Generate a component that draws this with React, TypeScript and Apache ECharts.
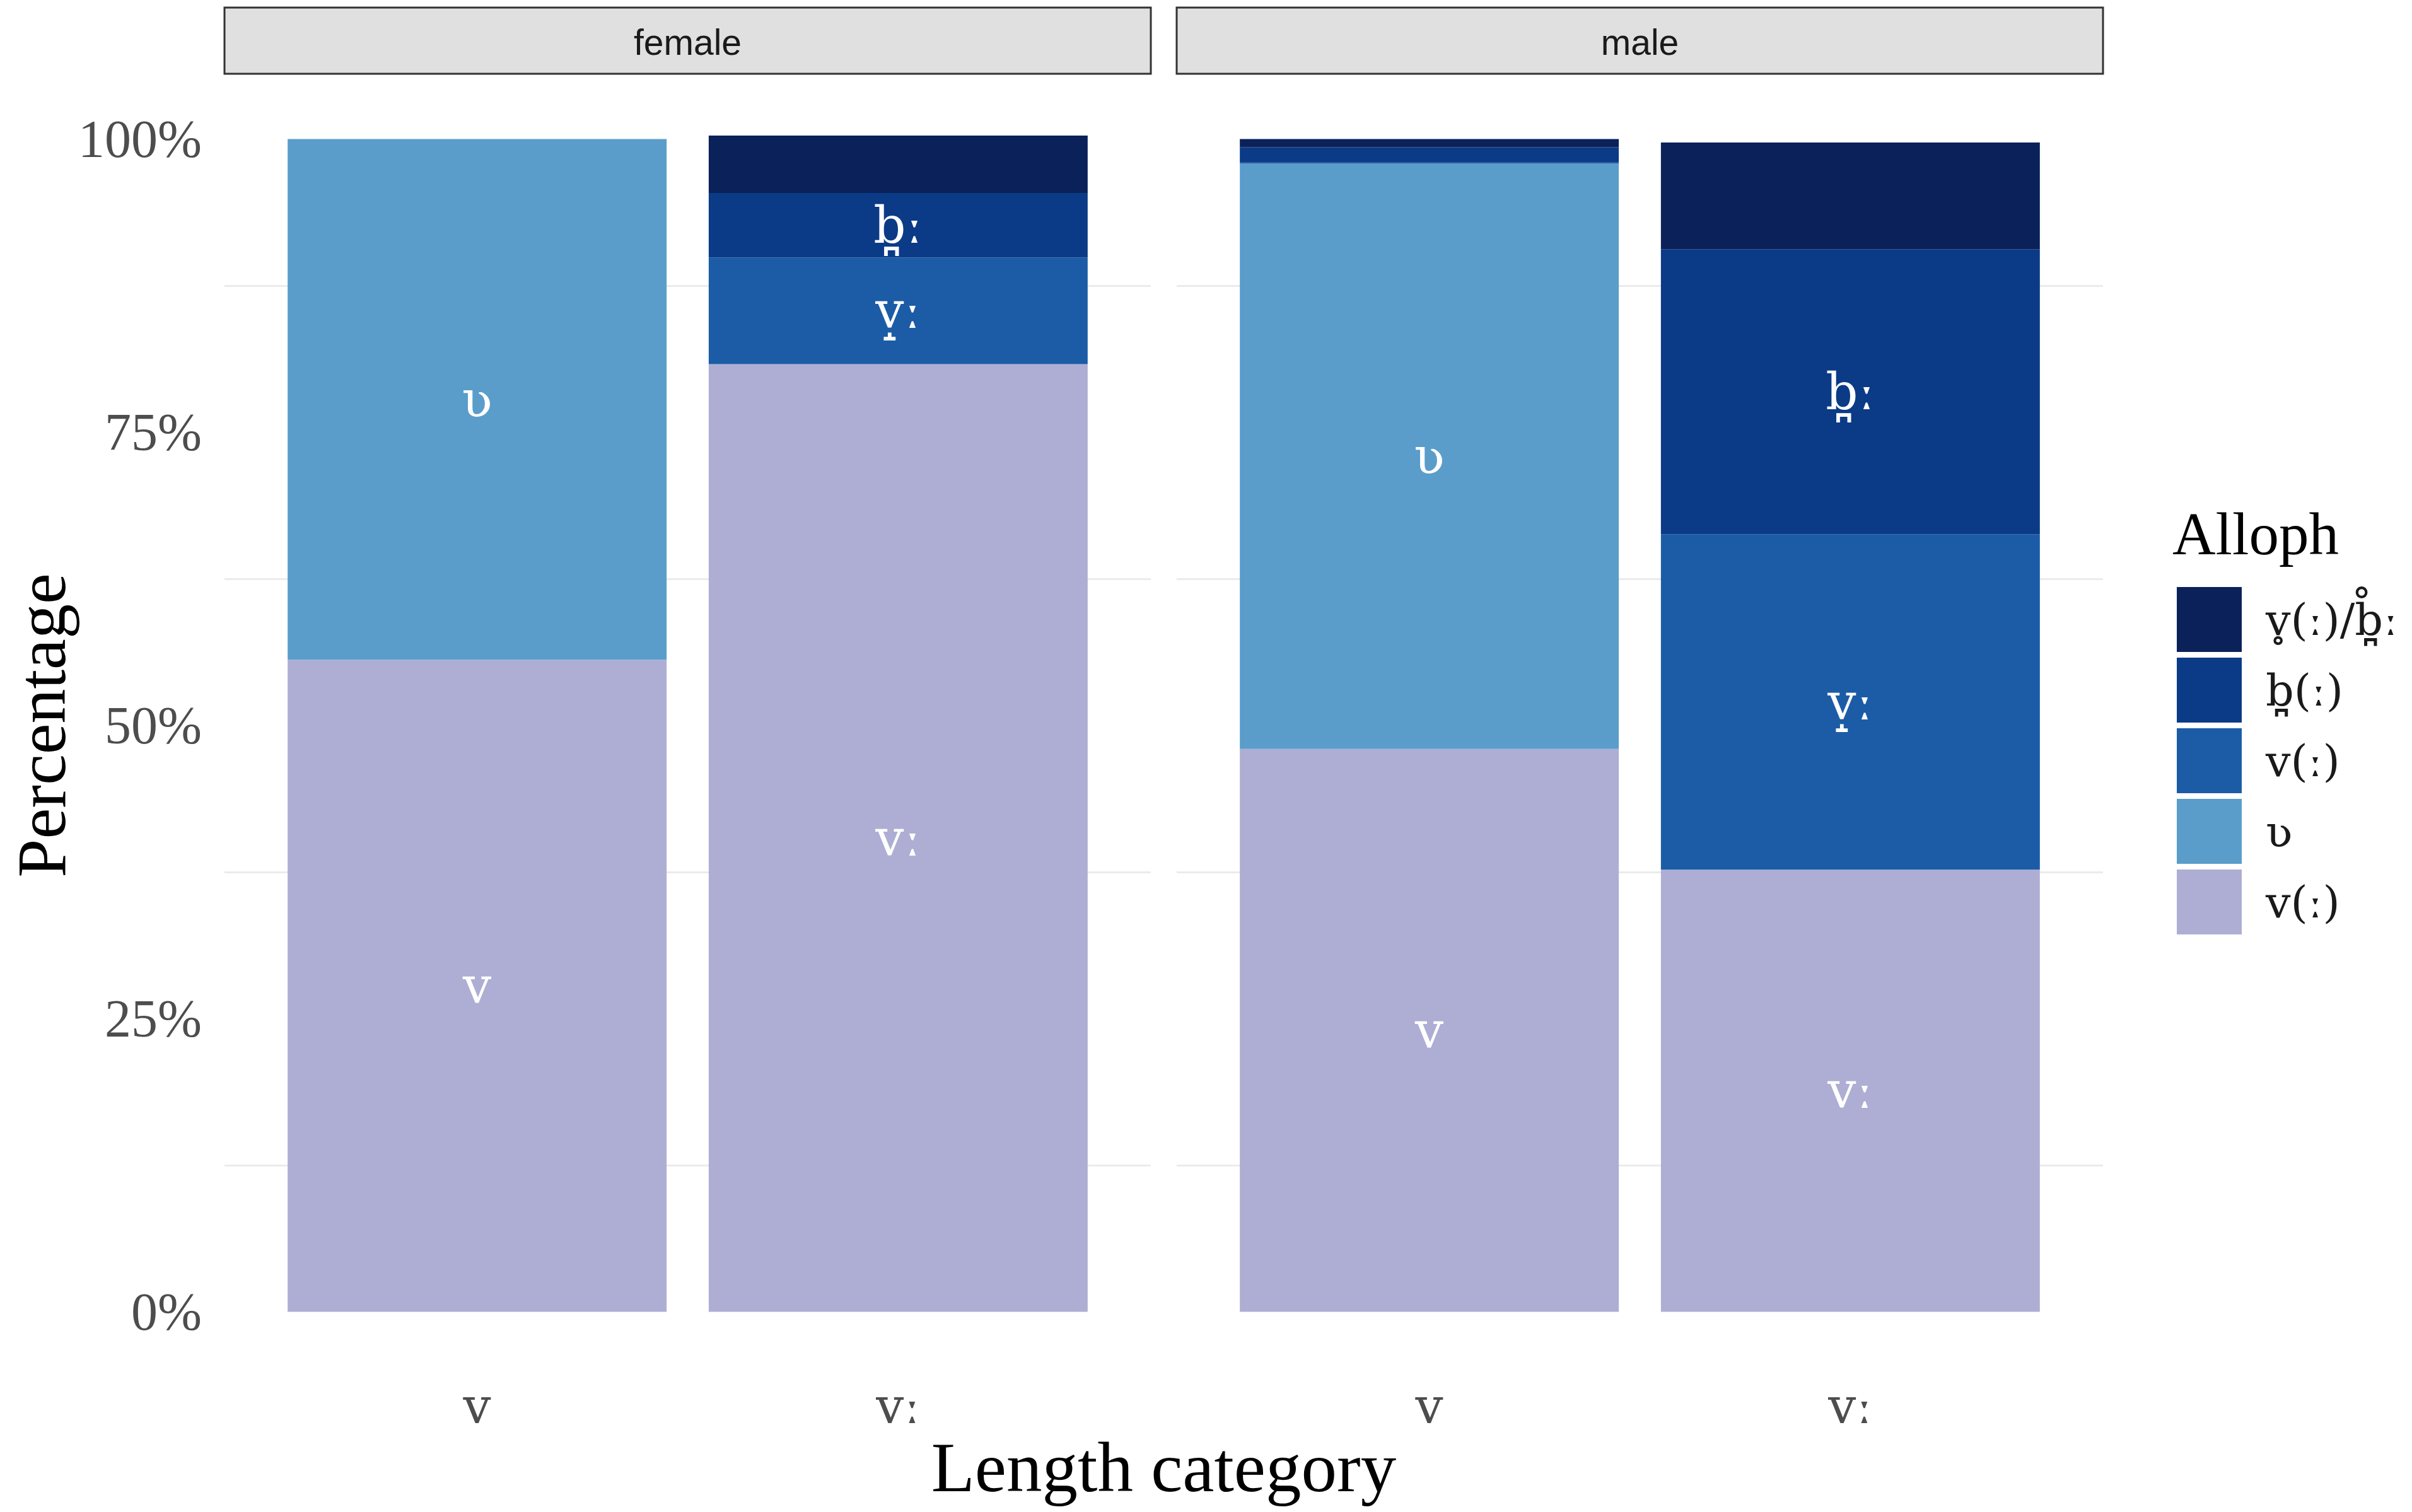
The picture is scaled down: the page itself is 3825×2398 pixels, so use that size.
import React, { useEffect, useRef } from 'react';
import * as echarts from 'echarts';

// ---------- data ----------
const panels = ['female', 'male'];
const categories = ['v', 'vː'];
const yTickStep = 25;
// stack order, bottom -> top
const seriesNames = ['v(ː)', 'ʋ', 'v̝(ː)', 'b̪(ː)', 'v̥(ː)/b̪̊ː'];
const legendLabels = ['v(ː)', 'ʋ', 'v(ː)', 'b̪(ː)', 'v̥(ː)/b̪̊ː'];
const colors = ['#aeaed4', '#5a9dca', '#1c5ca6', '#0b3b87', '#0b2159'];

// percentages per category [v, vː]
const femaleLav = [55.6, 80.8];
const femaleUpsilon = [44.4, 0];
const femaleMid = [0, 9.1];
const femaleDark = [0, 5.5];
const femaleDarkest = [0, 4.9];

const maleLav = [48.0, 37.7];
const maleUpsilon = [49.9, 0];
const maleMid = [0.1, 28.6];
const maleDark = [1.3, 24.3];
const maleDarkest = [0.7, 9.1];

// text drawn inside each segment [v, vː]
const segLabelsLav = ['v', 'vː'];
const segLabelsUpsilon = ['ʋ', ''];
const segLabelsMid = ['', 'v̝ː'];
const segLabelsDark = ['', 'b̪ː'];
const segLabelsDarkest = ['', ''];

const panelValues = [
  [femaleLav, femaleUpsilon, femaleMid, femaleDark, femaleDarkest],
  [maleLav, maleUpsilon, maleMid, maleDark, maleDarkest],
];
const segLabels = [segLabelsLav, segLabelsUpsilon, segLabelsMid, segLabelsDark, segLabelsDarkest];

// ---------- layout ----------
const W = 3825;
const H = 2398;
const SERIF = '"Liberation Serif", "DejaVu Serif", serif';
const IPA = '"DejaVu Serif", serif';
const SANS = '"Liberation Sans", Arial, sans-serif';
const panelLeft = [356, 1866];
const panelWidth = 1469;
const plotTop = 220.5;
const plotBottom = 2080.5;
const xExpand = 0.6;

export default function App() {
  const ref = useRef<HTMLDivElement>(null);

  useEffect(() => {
    document.body.style.margin = '0';
    document.body.style.overflow = 'hidden';
    if (!ref.current) return;
    const chart = echarts.init(ref.current, null, { renderer: 'svg', width: W, height: H });

    const plotHeight = plotBottom - plotTop;
    const unitPx = panelWidth / (categories.length - 1 + 2 * xExpand);
    const barGridOffset = (xExpand - 0.5) * unitPx;
    const barGridWidth = categories.length * unitPx;

    const grids: any[] = [];
    const xAxes: any[] = [];
    const yAxes: any[] = [];
    // background grids (gridlines, y labels)
    panels.forEach((_, p) => {
      grids.push({ left: panelLeft[p], top: plotTop, width: panelWidth, height: plotHeight });
      xAxes.push({ gridIndex: p, type: 'value', min: 0, max: 1, show: false });
      yAxes.push({
        gridIndex: p,
        type: 'value',
        min: 0,
        max: 100,
        interval: yTickStep,
        axisLine: { show: false },
        axisTick: { show: false },
        axisLabel: {
          show: p === 0,
          formatter: '{value}%',
          margin: 36,
          fontFamily: SERIF,
          fontSize: 84,
          color: '#4d4d4d',
        },
        splitLine: { show: false },
        minorTick: { show: false, splitNumber: 2 },
        minorSplitLine: { show: true, lineStyle: { color: '#ebebeb', width: 3 } },
      });
    });
    // bar grids
    panels.forEach((_, p) => {
      const gi = panels.length + p;
      grids.push({ left: panelLeft[p] + barGridOffset, top: plotTop, width: barGridWidth, height: plotHeight });
      xAxes.push({
        gridIndex: gi,
        type: 'category',
        data: categories,
        axisLine: { show: false },
        axisTick: { show: false },
        splitLine: { show: false },
        axisLabel: { margin: 110, fontFamily: IPA, fontSize: 78, color: '#4d4d4d' },
      });
      yAxes.push({ gridIndex: gi, type: 'value', min: 0, max: 100, show: false });
    });

    const series: any[] = [];
    panels.forEach((_, p) => {
      const gi = panels.length + p;
      seriesNames.forEach((name, s) => {
        series.push({
          type: 'bar',
          name,
          xAxisIndex: gi,
          yAxisIndex: gi,
          stack: 'panel' + p,
          barWidth: '90%',
          clip: false,
          silent: true,
          itemStyle: { color: colors[s] },
          label: {
            show: true,
            position: 'inside',
            color: '#ffffff',
            fontFamily: IPA,
            fontSize: 80,
            formatter: (params: any) => segLabels[s][params.dataIndex] || '',
          },
          emphasis: { disabled: true },
          data: panelValues[p][s],
        });
      });
    });

    const graphic: any[] = [];
    panels.forEach((name, p) => {
      graphic.push({
        type: 'rect',
        shape: { x: panelLeft[p], y: 12, width: panelWidth, height: 105 },
        style: { fill: '#e0e0e0', stroke: '#333333', lineWidth: 3 },
        silent: true,
      });
      graphic.push({
        type: 'text',
        x: panelLeft[p] + panelWidth / 2,
        y: 67,
        style: {
          text: name,
          fill: '#1a1a1a',
          font: `57px ${SANS}`,
          align: 'center',
          verticalAlign: 'middle',
        },
        silent: true,
      });
    });
    graphic.push({
      type: 'text',
      x: (panelLeft[0] + panelLeft[1] + panelWidth) / 2,
      y: 2326,
      style: { text: 'Length category', fill: '#000000', font: `113px ${SERIF}`, align: 'center', verticalAlign: 'middle' },
      silent: true,
    });
    graphic.push({
      type: 'text',
      x: 66,
      y: (plotTop + plotBottom) / 2,
      rotation: Math.PI / 2,
      style: { text: 'Percentage', fill: '#000000', font: `110px ${SERIF}`, align: 'center', verticalAlign: 'middle' },
      silent: true,
    });
    graphic.push({
      type: 'text',
      x: 3445,
      y: 847,
      style: { text: 'Alloph', fill: '#000000', font: `95px ${SERIF}`, align: 'left', verticalAlign: 'middle' },
      silent: true,
    });

    chart.setOption({
      animation: false,
      backgroundColor: '#ffffff',
      grid: grids,
      xAxis: xAxes,
      yAxis: yAxes,
      series,
      legend: {
        orient: 'vertical',
        left: 3447,
        top: 926,
        itemWidth: 103,
        itemHeight: 103,
        itemGap: 9,
        icon: 'rect',
        selectedMode: false,
        data: [4, 3, 2, 1, 0].map((i) => seriesNames[i]),
        formatter: (n: string) => legendLabels[seriesNames.indexOf(n)],
        textStyle: { fontFamily: IPA, fontSize: 70, color: '#1a1a1a', padding: [0, 0, 0, 33] },
      },
      graphic,
    });

    return () => chart.dispose();
  }, []);

  return <div ref={ref} style={{ width: W, height: H }} />;
}
